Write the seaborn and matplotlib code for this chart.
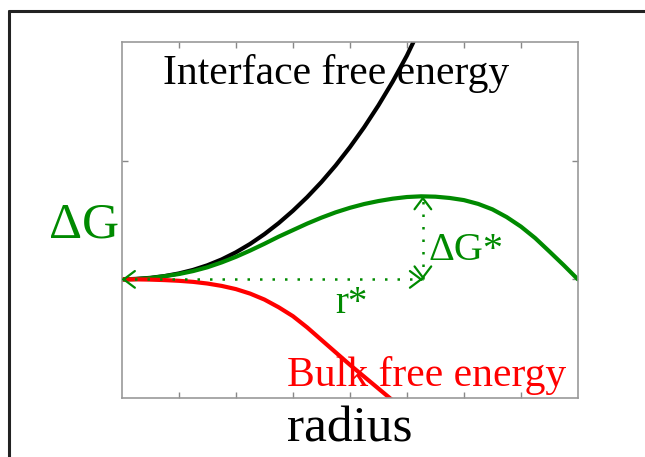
import matplotlib
matplotlib.use("Agg")
import matplotlib.pyplot as plt
from matplotlib.lines import Line2D
import seaborn as sns

# radius values (arbitrary units) and the energies
radius_interface = [0, 0.25, 0.5, 0.75, 1.0, 1.25, 1.5, 1.75, 2.0, 2.25, 2.5, 2.75,
                    3.0, 3.25, 3.5, 3.75, 4.0, 4.25, 4.5, 4.75, 5.0, 5.25, 5.5]
interface_energy = [0, 0.004, 0.013, 0.028, 0.05, 0.08, 0.119, 0.168, 0.228, 0.299, 0.381, 0.474,
                    0.578, 0.693, 0.82, 0.96, 1.114, 1.282, 1.466, 1.666, 1.886, 2.136, 2.426]

radius_bulk = [0, 0.25, 0.5, 0.75, 1.0, 1.25, 1.5, 1.75, 2.0, 2.25, 2.5,
               2.75, 3.0, 3.25, 3.5, 3.75, 4.0, 4.25, 4.5, 4.75, 5.0]
bulk_energy = [0, 0, -0.002, -0.006, -0.012, -0.021, -0.035, -0.055, -0.082, -0.12, -0.17,
               -0.235, -0.31, -0.405, -0.51, -0.615, -0.72, -0.82, -0.92, -1.02, -1.12]

radius_total = [0, 0.25, 0.5, 0.75, 1.0, 1.25, 1.5, 1.75, 2.0, 2.25, 2.5, 2.75, 3.0, 3.25,
                3.5, 3.75, 4.0, 4.25, 4.5, 4.75, 5.0, 5.25, 5.5, 5.75, 6.0, 6.25, 6.5,
                6.75, 7.0, 7.25, 7.5, 7.75, 8.0]
total_energy = [0, 0.003, 0.011, 0.027, 0.045, 0.07, 0.102, 0.143, 0.19, 0.243, 0.30,
                0.36, 0.415, 0.47, 0.52, 0.565, 0.603, 0.635, 0.66, 0.68, 0.694,
                0.70, 0.697, 0.686, 0.668, 0.636, 0.59, 0.525, 0.445, 0.348, 0.235, 0.12, 0.0]

r_star = 5.28
dG_star = 0.70

x_ticks = [1, 2, 3, 4, 5, 6, 7]
y_ticks = [0, 1]

GREEN = "#008a00"
RED = "#ff0000"

sns.set_theme(style="white")
plt.rcParams["font.family"] = ["Liberation Serif", "DejaVu Serif"]

fig = plt.figure(figsize=(6.45, 4.57), dpi=100)
ax = fig.add_axes([0.189, 0.129, 0.707, 0.779])

sns.lineplot(x=radius_interface, y=interface_energy, color="black", linewidth=3, ax=ax)
sns.lineplot(x=radius_total, y=total_energy, color=GREEN, linewidth=3, ax=ax)
sns.lineplot(x=radius_bulk, y=bulk_energy, color=RED, linewidth=3, ax=ax)

ax.set_xlim(0, 8)
ax.set_ylim(-1, 2)
ax.set_xticks(x_ticks)
ax.set_yticks(y_ticks)
ax.set_xticklabels([])
ax.set_yticklabels([])
ax.tick_params(direction="in", length=4, width=1, color="#888888",
               top=True, right=True, bottom=True, left=True)
for sp in ax.spines.values():
    sp.set_color("#999999")
    sp.set_linewidth(1.2)

# dotted guides for r* and dG*
ax.plot([0, r_star], [0, 0], linestyle=(0, (1, 4)), color=GREEN, lw=1.8,
        clip_on=False)
ax.plot([r_star, r_star], [0, dG_star], linestyle=(0, (1, 4)), color=GREEN, lw=1.8)

# open arrow heads
head = dict(arrowstyle="->,head_length=0.4,head_width=0.3", color=GREEN, lw=1.6,
            mutation_scale=20, shrinkA=0, shrinkB=0)
ax.annotate("", xy=(0, 0), xytext=(0.05, 0), arrowprops=head, annotation_clip=False)
ax.annotate("", xy=(r_star, 0), xytext=(r_star - 0.05, 0), arrowprops=head)
ax.annotate("", xy=(r_star, 0), xytext=(r_star, 0.02), arrowprops=head)
ax.annotate("", xy=(r_star, dG_star), xytext=(r_star, dG_star - 0.02), arrowprops=head)

# labels
ax.text(0.72, 1.65, "Interface free energy", fontsize=30, color="black",
        va="baseline", ha="left")
ax.text(2.89, -0.90, "Bulk free energy", fontsize=30, color=RED,
        va="baseline", ha="left")
ax.text(5.37, 0.16, "ΔG*", fontsize=29, color=GREEN, va="baseline", ha="left")
ax.text(3.74, -0.28, "r*", fontsize=28, color=GREEN, va="baseline", ha="left")
ax.text(-1.28, 0.354, "ΔG", fontsize=37, color=GREEN, va="baseline", ha="left",
        clip_on=False)
ax.text(4.0, -1.37, "radius", fontsize=37, color="black", va="baseline",
        ha="center", clip_on=False)

# outer frame (left and top edges visible)
fig.add_artist(Line2D([9 / 645, 9 / 645], [0, 1 - 11 / 457], color="#222222", lw=2.2))
fig.add_artist(Line2D([9 / 645, 1], [1 - 11 / 457, 1 - 11 / 457], color="#222222", lw=2.2))

fig.savefig("out.png", dpi=100)
